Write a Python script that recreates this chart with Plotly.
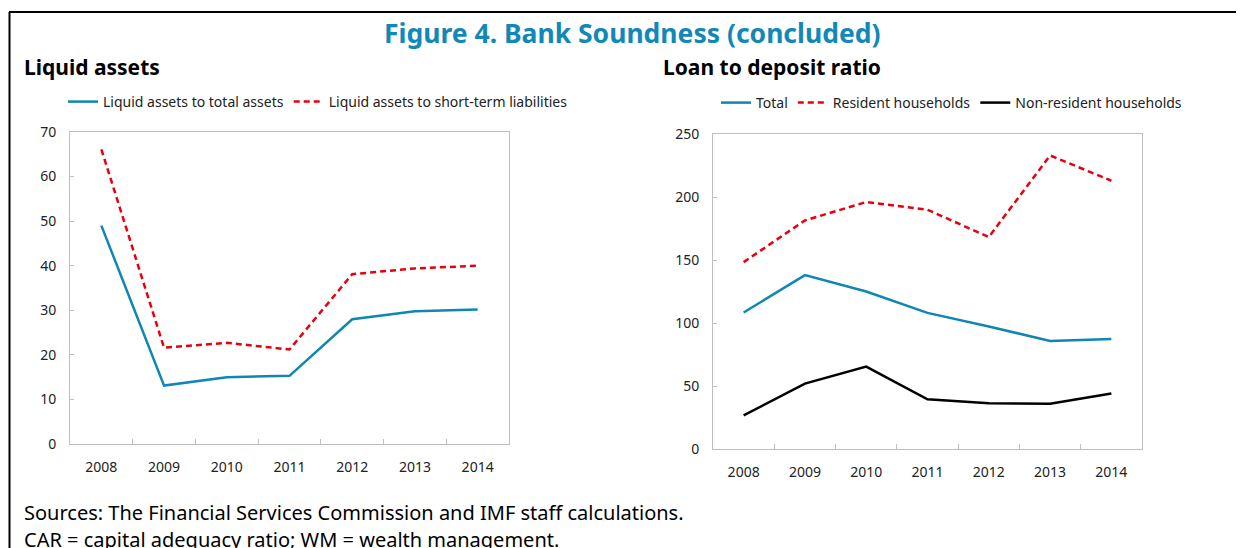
import plotly.graph_objects as go

# the page body adds an 8px margin, so the figure fills the rest of the 1244x548 window
PAGE_MARGIN = 8
W, H = 1244 - PAGE_MARGIN, 548 - PAGE_MARGIN

years = ["2008", "2009", "2010", "2011", "2012", "2013", "2014"]

# Liquid assets (percent)
liquid_to_total = [49.0, 13.1, 15.0, 15.3, 28.0, 29.8, 30.2]
liquid_to_short_term = [66.1, 21.6, 22.7, 21.2, 38.1, 39.4, 40.0]

# Loan to deposit ratio (percent)
ltd_total = [108.3, 138.0, 125.0, 108.0, 97.2, 85.8, 87.4]
ltd_resident = [148.3, 181.4, 196.0, 189.9, 168.2, 233.0, 212.9]
ltd_nonresident = [26.7, 51.9, 65.4, 39.5, 36.3, 36.0, 44.0]

BLUE = "#0F86B4"
RED = "#E8000B"
FONT = "Noto Sans"


def px_x(x):
    """Screen x (pixels) -> paper fraction."""
    return (x - PAGE_MARGIN) / W


def px_y(y):
    """Screen y (pixels from top) -> paper fraction."""
    return 1 - (y - PAGE_MARGIN) / H


fig = go.Figure()

fig.add_trace(go.Scatter(x=years, y=liquid_to_total, mode="lines", name="Liquid assets to total assets",
                         line=dict(color=BLUE, width=2.5), xaxis="x", yaxis="y", legend="legend"))
fig.add_trace(go.Scatter(x=years, y=liquid_to_short_term, mode="lines", name="Liquid assets to short-term liabilities",
                         line=dict(color=RED, width=2.5, dash="6px,4px"), xaxis="x", yaxis="y", legend="legend"))

fig.add_trace(go.Scatter(x=years, y=ltd_total, mode="lines", name="Total",
                         line=dict(color=BLUE, width=2.5), xaxis="x2", yaxis="y2", legend="legend2"))
fig.add_trace(go.Scatter(x=years, y=ltd_resident, mode="lines", name="Resident households",
                         line=dict(color=RED, width=2.5, dash="6px,4px"), xaxis="x2", yaxis="y2", legend="legend2"))
fig.add_trace(go.Scatter(x=years, y=ltd_nonresident, mode="lines", name="Non-resident households",
                         line=dict(color="black", width=2.5), xaxis="x2", yaxis="y2", legend="legend2"))

xaxis_style = dict(type="category", range=[-0.5, len(years) - 0.5], showgrid=False, showline=True,
                   linecolor="#BFBFBF", linewidth=1, mirror=True, ticks="inside", tickson="boundaries",
                   ticklen=5, tickcolor="#BFBFBF", tickfont=dict(family=FONT, size=14, color="#222"),
                   ticklabelstandoff=10, fixedrange=True)
yaxis_style = dict(showgrid=False, showline=True, linecolor="#BFBFBF", linewidth=1, mirror=True,
                   ticks="inside", ticklen=4, tickcolor="#BFBFBF", zeroline=False,
                   tickfont=dict(family=FONT, size=14, color="#222"), ticklabelstandoff=10, fixedrange=True)

legend_font = dict(family=FONT, size=14, color="#222")

fig.update_layout(
    width=W, height=H,
    margin=dict(l=0, r=0, t=0, b=0, autoexpand=False),
    paper_bgcolor="white", plot_bgcolor="white",
    font=dict(family=FONT, color="#222"),
    xaxis=dict(xaxis_style, domain=[px_x(70), px_x(509)], anchor="y"),
    yaxis=dict(yaxis_style, domain=[px_y(444), px_y(132)], range=[0, 70], dtick=10, anchor="x"),
    xaxis2=dict(xaxis_style, domain=[px_x(713), px_x(1142)], anchor="y2"),
    yaxis2=dict(yaxis_style, domain=[px_y(449), px_y(134)], range=[0, 250], dtick=50, anchor="x2"),
    legend=dict(orientation="h", x=px_x(63), y=px_y(102), xanchor="left", yanchor="middle",
                font=legend_font, itemwidth=30, bgcolor="rgba(0,0,0,0)"),
    legend2=dict(orientation="h", x=px_x(716), y=px_y(103), xanchor="left", yanchor="middle",
                 font=legend_font, itemwidth=30, bgcolor="rgba(0,0,0,0)"),
    showlegend=True,
)

annotations = [
    dict(text="<b>Figure 4. Bank Soundness (concluded)</b>", x=px_x(632), y=px_y(33), xanchor="center",
         font=dict(family=FONT, size=26.5, color="#1188B8")),
    dict(text="<b>Liquid assets</b>", x=px_x(22), y=px_y(67),
         font=dict(family=FONT, size=21, color="black")),
    dict(text="<b>Loan to deposit ratio</b>", x=px_x(661), y=px_y(67),
         font=dict(family=FONT, size=21, color="black")),
    dict(text="Sources: The Financial Services Commission and IMF staff calculations.", x=px_x(22),
         y=px_y(512), font=dict(family=FONT, size=20, color="black")),
    dict(text="CAR = capital adequacy ratio; WM = wealth management.", x=px_x(22), y=px_y(539),
         font=dict(family=FONT, size=20, color="black")),
]
for a in annotations:
    a.setdefault("xanchor", "left")
    fig.add_annotation(xref="paper", yref="paper", yanchor="middle", showarrow=False, **a)

# page frame: top and left rules
fig.add_shape(type="line", xref="paper", yref="paper", x0=px_x(9), x1=1, y0=px_y(12), y1=px_y(12),
              line=dict(color="black", width=2))
fig.add_shape(type="line", xref="paper", yref="paper", x0=px_x(9.5), x1=px_x(9.5), y0=px_y(12), y1=0,
              line=dict(color="black", width=2))

fig.write_html("out.html")
